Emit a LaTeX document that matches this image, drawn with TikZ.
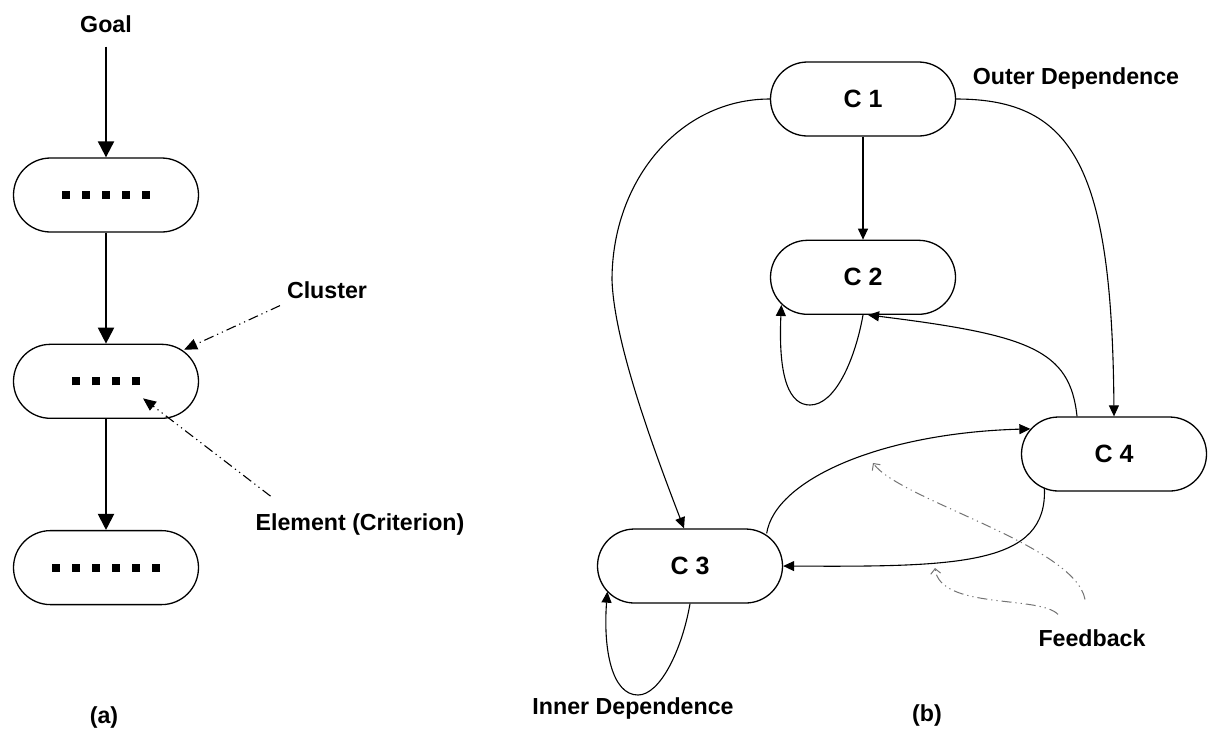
\documentclass[tikz,border=0pt]{standalone}
\usepackage{fontspec}
\setmainfont{Liberation Sans}
\usepackage{tikz}
\usetikzlibrary{arrows.meta,positioning}
\definecolor{fbgray}{gray}{0.45}
\newcommand{\elemsq}{\rule{4pt}{4pt}}
\newcommand{\elemrow}[1]{\elemsq\foreach \k in {2,...,#1}{\hspace{6pt}\elemsq}}

\begin{document}
\begin{tikzpicture}[x=0.5pt, y=-0.5pt,
      cluster/.style={draw, line width=0.65pt, rounded corners=18.5pt, minimum width=92.5pt, minimum height=37pt, inner sep=0pt, font=\fontsize{12.5}{14}\selectfont\bfseries},
      lbl/.style={font=\fontsize{11.6}{13}\selectfont\bfseries},
      flow/.style={line width=1pt, -{Triangle[length=8pt,width=8pt]}},
      dep/.style={line width=0.55pt, -{Triangle[length=5.5pt,width=5pt]}},
      hint/.style={line width=0.55pt, dash pattern=on 5pt off 2pt on 0.6pt off 2pt on 0.6pt off 2pt, -{Triangle[length=6.5pt,width=5.5pt]}},
      fback/.style={fbgray, line width=0.5pt, dash pattern=on 5pt off 2pt on 0.6pt off 2pt on 0.6pt off 2pt, -{Straight Barb[length=2.5pt,width=5pt]}},
      node distance=55.5pt
    ]
    \useasboundingbox (0,0) rectangle (1208,735);

    % (a) hierarchy
    \node[lbl] (goal) at (106,24) {Goal};
    \node[cluster] (b1) at (106,195) {\elemrow{5}};
    \node[cluster, below=of b1] (b2) {\elemrow{4}};
    \node[cluster, below=of b2] (b3) {\elemrow{6}};
    \node[lbl] (clus) at (327,290) {Cluster};
    \node[lbl] (elem) at (360,524) {Element (Criterion)};
    \node[lbl] (capa) at (104,717) {(a)};

    \draw[flow, shorten <=3.5pt] (goal) -- (b1);
    \draw[flow] (b1) -- (b2);
    \draw[flow] (b2) -- (b3);
    \draw[hint] (clus.south west) -- ([shift={(-15,6)}]b2.north east);
    \draw[hint] ([shift={(22,-10)}]elem.north west) -- ([shift={(37,17)}]b2.center);

    % (b) network
    \node[cluster] (c1) at (863,99) {C 1};
    \node[cluster, below=51.5pt of c1] (c2) {C 2};
    \node[cluster] (c3) at (690,566) {C 3};
    \node[cluster] (c4) at (1114,454) {C 4};
    \node[lbl] (outer) at (1076,78) {Outer Dependence};
    \node[lbl] (inner) at (633,708) {Inner Dependence};
    \node[lbl] (fb) at (1092,638) {Feedback};
    \node[lbl] (capb) at (927,715) {(b)};
    \coordinate (fbtipa) at (873,463);
    \coordinate (fbtipb) at (935,568);

    \draw[dep] (c1) -- (c2);
    \draw[dep] (c1.west) .. controls (680,99) and (612,180) .. (612,280) .. controls (614,340) and (650,440) .. ([xshift=-3pt]c3.north);
    \draw[dep] (c1.east) .. controls (1075,99) and (1112,170) .. (c4.north);
    \draw[dep] ([xshift=-18.5pt]c4.north) .. controls (1070,350) and (1030,335) .. ([xshift=2.5pt]c2.south);
    \draw[dep] (c2.south) .. controls (855,360) and (835,405) .. (810,405) .. controls (790,405) and (778,380) .. ([shift={(11.5,-10)}]c2.south west);
    \draw[dep] ([shift={(-16.5,5)}]c3.north east) .. controls (775,480) and (880,433) .. ([shift={(9.5,12.5)}]c4.north west);
    \draw[dep] ([shift={(23.5,-4)}]c4.south west) .. controls (1048,565) and (960,567) .. (c3.east);
    \draw[dep] (c3.south) .. controls (682,650) and (660,695) .. (638,695) .. controls (612,695) and (603,650) .. ([shift={(10.5,-12)}]c3.south west);
    \draw[fback] ([shift={(-7,-23)}]fb.north) .. controls (1075,545) and (900,500) .. (fbtipa);
    \draw[fback] ([shift={(-34,-8)}]fb.north) .. controls (1040,595) and (940,610) .. (fbtipb);
  \end{tikzpicture}
\end{document}
